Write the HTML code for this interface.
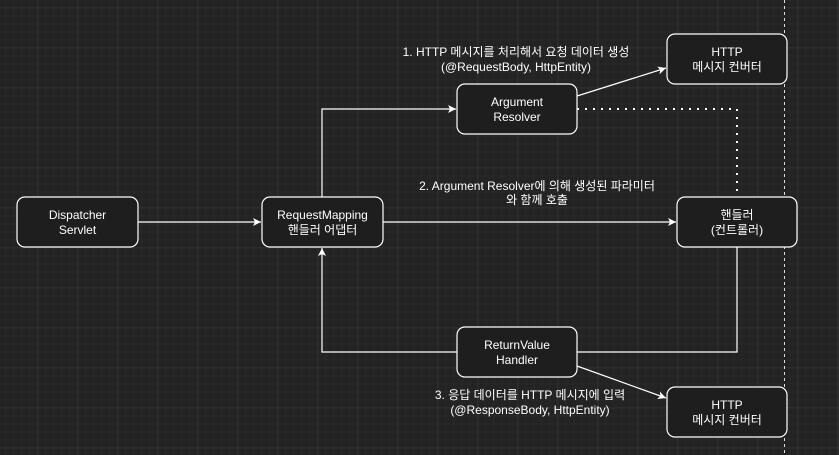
<!DOCTYPE html>
<html><head><meta charset="utf-8"><style>
html,body{margin:0;padding:0;background:#232323;width:839px;height:455px;overflow:hidden}
</style></head><body>
<svg width="839" height="455" xmlns="http://www.w3.org/2000/svg" font-family="'Liberation Sans','Noto Sans CJK KR',sans-serif" font-size="12" fill="#fff">
<defs>
<pattern id="mi" x="5.7" y="7.7" width="8" height="8" patternUnits="userSpaceOnUse"><path d="M0 0H8M0 0V8" stroke="#2e2e2e" stroke-width="1" fill="none"/></pattern>
<pattern id="ma" x="37.7" y="7.7" width="40" height="40" patternUnits="userSpaceOnUse"><path d="M0 0H40M0 0V40" stroke="#3c3c3c" stroke-width="1" fill="none"/></pattern>
<marker id="a" markerWidth="10" markerHeight="10" refX="8" refY="5" orient="auto" markerUnits="userSpaceOnUse"><path d="M0 1L8 5L0 9L2 5Z" fill="#fff"/></marker>
</defs>
<rect width="839" height="455" fill="#232323"/>
<rect width="839" height="455" fill="url(#mi)"/>
<rect width="839" height="455" fill="url(#ma)"/>
<line x1="784.5" y1="0" x2="784.5" y2="455" stroke="#ddd" stroke-dasharray="3 3"/>
<g stroke="#fff" fill="none" stroke-width="1.2">
<path d="M138 222H261" marker-end="url(#a)"/>
<path d="M322 197V109H456" marker-end="url(#a)"/>
<path d="M577 96L666 68" marker-end="url(#a)"/>
<path d="M383 222H676" marker-end="url(#a)"/>
<path d="M737 247V352H577"/>
<path d="M457 352H322V248" marker-end="url(#a)"/>
<path d="M577 366L666 398" marker-end="url(#a)"/>
<path d="M577 109H737V197" stroke-dasharray="2 6" stroke-width="2"/>
</g>
<g fill="#1e1e1e" stroke="#fff" stroke-width="1.2">
<rect x="17" y="197" width="121" height="50" rx="8"/>
<rect x="262" y="197" width="121" height="50" rx="8"/>
<rect x="457" y="84" width="120" height="50" rx="8"/>
<rect x="667" y="34" width="120" height="50" rx="8"/>
<rect x="677" y="197" width="120" height="50" rx="8"/>
<rect x="457" y="327" width="120" height="50" rx="8"/>
<rect x="667" y="387" width="120" height="50" rx="8"/>
</g>
<g text-anchor="middle">
<text x="77.5" y="219">Dispatcher</text><text x="77.5" y="234">Servlet</text>
<text x="322.5" y="219">RequestMapping</text><text x="322.5" y="234">핸들러 어댑터</text>
<text x="517" y="106">Argument</text><text x="517" y="121">Resolver</text>
<text x="727" y="56">HTTP</text><text x="727" y="71">메시지 컨버터</text>
<text x="737" y="219">핸들러</text><text x="737" y="234">(컨트롤러)</text>
<text x="517" y="349">ReturnValue</text><text x="517" y="364">Handler</text>
<text x="727" y="409">HTTP</text><text x="727" y="424">메시지 컨버터</text>
<text x="516" y="56">1. HTTP 메시지를 처리해서 요청 데이터 생성</text>
<text x="516" y="71">(@RequestBody, HttpEntity)</text>
<text x="537" y="190">2. Argument Resolver에 의해 생성된 파라미터</text>
<text x="537" y="204">와 함께 호출</text>
<text x="530" y="399">3. 응답 데이터를 HTTP 메시지에 입력</text>
<text x="530" y="414">(@ResponseBody, HttpEntity)</text>
</g>
</svg>
</body></html>
